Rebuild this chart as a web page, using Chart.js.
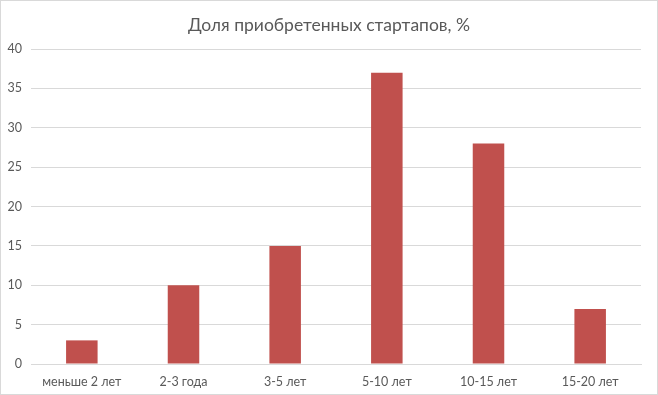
<!DOCTYPE html>
<html>
<head>
<meta charset="utf-8">
<script src="https://cdn.jsdelivr.net/npm/chart.js@4/dist/chart.umd.min.js"></script>
<style>
  body { margin: 0; background: #fff; }
  .wrap { position: relative; width: 658px; height: 395px; }
  .frame { position: absolute; left: 0; top: 0; width: 656px; height: 393px; border: 1px solid #d9d9d9; pointer-events: none; }
</style>
</head>
<body>
<div class="wrap">
  <canvas id="chart" width="658" height="395"></canvas>
  <div class="frame"></div>
</div>
<script>
// data
const categories = ['меньше 2 лет', '2-3 года', '3-5 лет', '5-10 лет', '10-15 лет', '15-20 лет']
const shares = [3, 10, 15, 37, 28, 7]
const titleText = 'Доля приобретенных стартапов, %'

const textColor = '#595959'
const gridColor = '#d9d9d9'

// centre the title on the whole frame, not only on the padded area
const titleCenter = {
  id: 'titleCenter',
  afterLayout(chart) {
    const t = chart.titleBlock
    if (!t) return
    t.left = 0
    t.right = chart.width
    t.width = chart.width
  }
}

new Chart(document.getElementById('chart'), {
  type: 'bar',
  data: {
    labels: categories,
    datasets: [{
      data: shares,
      backgroundColor: '#c0504d',
      barPercentage: 0.31,
      categoryPercentage: 1
    }]
  },
  options: {
    responsive: false,
    animation: false,
    layout: { padding: { left: 0, right: 17, top: 0, bottom: 0 } },
    plugins: {
      legend: { display: false },
      tooltip: { enabled: false },
      title: {
        display: true,
        text: titleText,
        color: textColor,
        font: { family: 'Lato', size: 17.5, weight: 'normal' },
        padding: { top: 15, bottom: 13 }
      }
    },
    scales: {
      x: {
        grid: { display: false },
        border: { color: gridColor },
        ticks: { color: textColor, font: { family: 'Lato', size: 12.5 }, padding: 2, maxRotation: 0 },
        afterFit: s => { s.height = 31 }
      },
      y: {
        min: 0,
        max: 40,
        grid: { color: gridColor, drawTicks: false },
        border: { display: false },
        ticks: { stepSize: 5, color: textColor, font: { family: 'Lato', size: 12.5 }, padding: 9 },
        afterFit: s => { s.width = 31 }
      }
    }
  },
  plugins: [titleCenter]
})
</script>
</body>
</html>
